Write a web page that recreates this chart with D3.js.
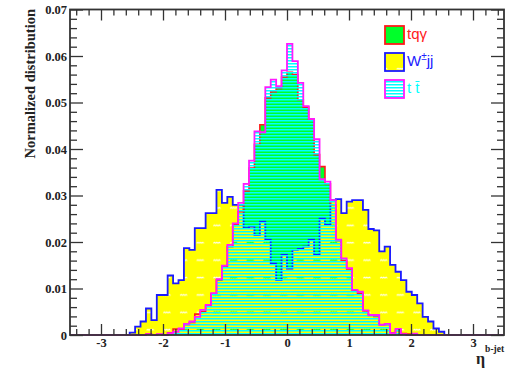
<!DOCTYPE html>
<html>
<head>
<meta charset="utf-8">
<script src="https://cdn.jsdelivr.net/npm/d3@7"></script>
<style>
  html, body { margin: 0; padding: 0; background: #fff; }
  svg { display: block; }
</style>
</head>
<body>
<svg id="chart" width="514" height="371"></svg>
<script>
// Histogram binning: 80 bins over eta in [-3.5, 3.5]
const etaMin = -3.5, etaMax = 3.5, nBins = 80;

// Normalized bin contents, bin 0 .. bin 79
const tqgamma = [
  0,0,0,0,0,0,0,0,0,0,
  0,0,0,0,0.0002,0,0.0001,0,0.0005,0.0013,
  0.0012,0.0022,0.0027,0.0045,0.0050,0.0062,0.0088,0.0118,0.0146,0.0190,
  0.0238,0.0265,0.0310,0.0359,0.0410,0.0452,0.0510,0.0523,0.0530,0.0555,
  0.0565,0.0560,0.0506,0.0490,0.0462,0.0388,0.0362,0.0325,0.0280,0.0203,
  0.0160,0.0142,0.0095,0.0090,0.0052,0.0042,0.0040,0.0022,0.0022,0.0005,
  0.0010,0.0003,0.0002,0,0,0,0,0,0,0,
  0,0,0,0,0,0,0,0,0,0
];
const wjj = [
  0,0,0,0,0,0,0,0,0,0,
  0,0.0005,0.0018,0.0029,0.0057,0.0032,0.0086,0.0086,0.0128,0.0111,
  0.0118,0.0187,0.0183,0.0230,0.0230,0.0262,0.0262,0.0312,0.0284,0.0297,
  0.0280,0.0280,0.0230,0.0233,0.0215,0.0244,0.0205,0.0154,0.0118,0.0172,
  0.0143,0.0183,0.0185,0.0190,0.0205,0.0172,0.0251,0.0237,0.0290,0.0292,
  0.0262,0.0287,0.0290,0.0290,0.0269,0.0228,0.0225,0.0180,0.0190,0.0151,
  0.0136,0.0118,0.0093,0.0086,0.0068,0.0039,0.0029,0.0014,0.0007,0,
  0,0,0,0,0,0,0,0,0,0
];
const ttbar = [
  0,0,0,0,0,0,0,0,0,0,
  0,0,0,0,0.0002,0,0.0002,0,0.0004,0.0007,
  0.0014,0.0024,0.0029,0.0039,0.0054,0.0065,0.0090,0.0120,0.0149,0.0194,
  0.0240,0.0284,0.0325,0.0375,0.0438,0.0436,0.0533,0.0549,0.0535,0.0569,
  0.0626,0.0589,0.0542,0.0492,0.0465,0.0421,0.0335,0.0330,0.0290,0.0205,
  0.0165,0.0144,0.0097,0.0093,0.0053,0.0043,0.0043,0.0022,0.0024,0.0004,
  0.0013,0.0002,0,0.0003,0,0,0,0,0,0,
  0,0,0,0,0,0,0,0,0,0
];

// Axis ticks
const xMajor = [-3, -2, -1, 0, 1, 2, 3];
const xMinor = d3.range(-34, 35, 2).map(v => v / 10).filter(v => Math.abs(v - Math.round(v)) > 1e-9);
const yMajor = [0, 0.01, 0.02, 0.03, 0.04, 0.05, 0.06, 0.07];
const yMinor = d3.range(0, 71, 2).map(v => v / 1000).filter(v => Math.abs(v * 100 - Math.round(v * 100)) > 1e-9);

// Legend entries
const legendLabels = ["tq\u03b3", "W", "t t\u0304"];

const svg = d3.select("#chart");
const frame = { left: 70, right: 504, top: 9.5, bottom: 335 };

const x = d3.scaleLinear().domain([etaMin, etaMax]).range([frame.left, frame.right]);
const y = d3.scaleLinear().domain([0, 0.07]).range([frame.bottom, frame.top]);
const binW = (etaMax - etaMin) / nBins;

// Step outline of a histogram, starting and ending on the zero line
function stepPoints(vals) {
  const pts = [[etaMin, 0]];
  vals.forEach((v, i) => {
    const lo = etaMin + i * binW, hi = lo + binW;
    pts.push([lo, v], [hi, v]);
  });
  pts.push([etaMax, 0]);
  return pts;
}
const line = d3.line().x(d => x(d[0])).y(d => y(d[1]));
const fillPath = vals => line(stepPoints(vals)) + "Z";

// Fill patterns
const defs = svg.append("defs");
// horizontal cyan hatching
const hatch = defs.append("pattern").attr("id", "hatchTT")
  .attr("patternUnits", "userSpaceOnUse").attr("width", 8).attr("height", 3);
hatch.append("rect").attr("x", 0).attr("y", 0).attr("width", 8).attr("height", 1.5).attr("fill", "#00ffff");

// yellow with small open wave marks
const wave = defs.append("pattern").attr("id", "fillW")
  .attr("patternUnits", "userSpaceOnUse").attr("width", 16.67).attr("height", 17.4)
  .attr("x", 8.3).attr("y", 8.2);
wave.append("path")
  .attr("fill", "#ffff00").attr("fill-rule", "evenodd")
  .attr("d", "M0,0H16.67V17.4H0Z " +
    "M5,8.2 l1.2,-0.9 l1.2,0.9 l1.2,-0.9 l1.2,0.9 l1.2,-0.9 l1.2,0.9 v1.3 l-1.2,-0.9 l-1.2,0.9 l-1.2,-0.9 l-1.2,0.9 l-1.2,-0.9 l-1.2,0.9 Z");

const plot = svg.append("g");
plot.append("path").attr("d", fillPath(tqgamma)).attr("fill", "#00ff2a").attr("stroke", "none");
plot.append("path").attr("d", fillPath(wjj)).attr("fill", "url(#fillW)").attr("stroke", "none");
plot.append("path").attr("d", line(stepPoints(wjj))).attr("fill", "none").attr("stroke", "#1a1aff").attr("stroke-width", 1.8);
plot.append("path").attr("d", line(stepPoints(tqgamma))).attr("fill", "none").attr("stroke", "#ff1a1a").attr("stroke-width", 1.6);
plot.append("path").attr("d", fillPath(ttbar)).attr("fill", "url(#hatchTT)").attr("stroke", "none");
plot.append("path").attr("d", line(stepPoints(ttbar))).attr("fill", "none").attr("stroke", "#ff1aff").attr("stroke-width", 1.8);

// Frame and ticks (ticks point inward on all four sides)
const axisColor = "#333";
function styleAxis(g, labels) {
  g.select(".domain").remove();
  g.selectAll(".tick line").attr("stroke", axisColor).attr("stroke-width", 1.3);
  if (!labels) g.selectAll(".tick text").remove();
}
const serif = "'Liberation Serif', 'DejaVu Serif', serif";

svg.append("g").attr("transform", `translate(0,${frame.bottom})`)
  .call(d3.axisBottom(x).tickValues(xMajor).tickSize(-11).tickFormat(d => String(d)))
  .call(g => styleAxis(g, true))
  .call(g => g.selectAll(".tick text").attr("y", 12).attr("dy", 0)
     .attr("font-family", serif).attr("font-weight", "bold").attr("font-size", 12.5).attr("fill", "#222"));
svg.append("g").attr("transform", `translate(0,${frame.bottom})`)
  .call(d3.axisBottom(x).tickValues(xMinor).tickSize(-6)).call(g => styleAxis(g, false));
svg.append("g").attr("transform", `translate(0,${frame.top})`)
  .call(d3.axisTop(x).tickValues(xMajor).tickSize(-11)).call(g => styleAxis(g, false));
svg.append("g").attr("transform", `translate(0,${frame.top})`)
  .call(d3.axisTop(x).tickValues(xMinor).tickSize(-6)).call(g => styleAxis(g, false));

svg.append("g").attr("transform", `translate(${frame.left},0)`)
  .call(d3.axisLeft(y).tickValues(yMajor).tickSize(-13)
    .tickFormat(d => d === 0 ? "0" : d3.format(".2f")(d)))
  .call(g => styleAxis(g, true))
  .call(g => g.selectAll(".tick text").attr("x", -3)
     .attr("font-family", serif).attr("font-weight", "bold").attr("font-size", 12.5).attr("fill", "#222"));
svg.append("g").attr("transform", `translate(${frame.left},0)`)
  .call(d3.axisLeft(y).tickValues(yMinor).tickSize(-7)).call(g => styleAxis(g, false));
svg.append("g").attr("transform", `translate(${frame.right},0)`)
  .call(d3.axisRight(y).tickValues(yMajor).tickSize(-13)).call(g => styleAxis(g, false));
svg.append("g").attr("transform", `translate(${frame.right},0)`)
  .call(d3.axisRight(y).tickValues(yMinor).tickSize(-7)).call(g => styleAxis(g, false));

svg.append("rect").attr("x", frame.left).attr("y", frame.top)
  .attr("width", frame.right - frame.left).attr("height", frame.bottom - frame.top)
  .attr("fill", "none").attr("stroke", axisColor).attr("stroke-width", 1.8);

// Axis titles
svg.append("text").attr("transform", "translate(35,9) rotate(-90)")
  .attr("text-anchor", "end").attr("font-family", serif).attr("font-weight", "bold")
  .attr("font-size", 14.5).attr("fill", "#222").text("Normalized distribution");

const xt = svg.append("text").attr("x", 476).attr("y", 364)
  .attr("font-family", serif).attr("font-weight", "bold").attr("fill", "#222");
xt.append("tspan").attr("font-size", 16).text("\u03b7");
xt.append("tspan").attr("font-size", 9.5).attr("dy", -12).text("b-jet");

// Legend
const sans = "'Liberation Sans', Arial, sans-serif";
const legend = svg.append("g");
const legendStyles = [
  { fill: "#00ff2a", stroke: "#ff1a1a", color: "#ff2020" },
  { fill: "url(#fillW)", stroke: "#1a1aff", color: "#2020ff" },
  { fill: "url(#hatchTT)", stroke: "#ff1aff", color: "#00ffff" }
];
const legendY = [26, 53, 80];
legendLabels.forEach((lab, i) => {
  const s = legendStyles[i];
  legend.append("rect").attr("x", 385).attr("y", legendY[i]).attr("width", 19).attr("height", 18)
    .attr("fill", s.fill).attr("stroke", s.stroke).attr("stroke-width", 1.8);
  const t = legend.append("text").attr("x", 407).attr("y", legendY[i] + 13)
    .attr("font-family", sans).attr("font-size", 15).attr("fill", s.color);
  t.append("tspan").text(lab);
  if (i === 1) {
    t.append("tspan").attr("font-size", 10).attr("dy", -6).text("\u00b1");
    t.append("tspan").attr("dy", 6).text("jj");
  }
});
</script>
</body>
</html>
